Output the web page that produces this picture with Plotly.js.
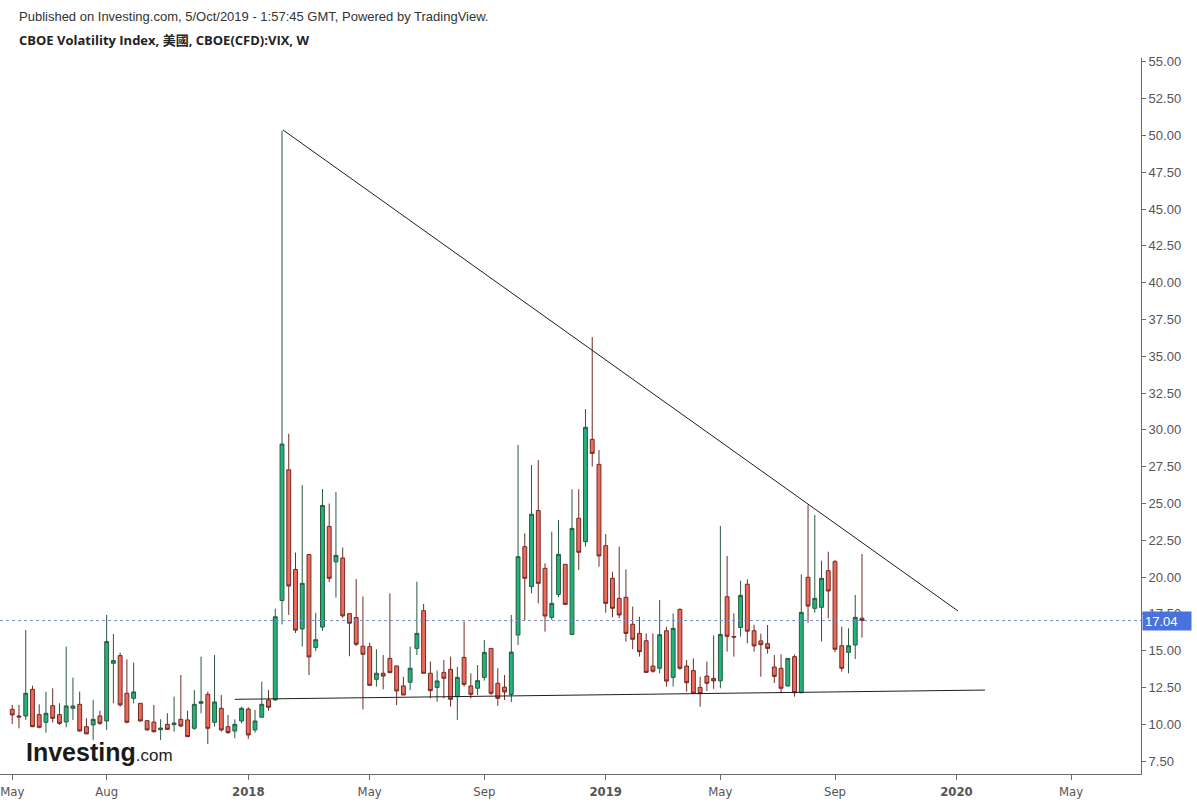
<!DOCTYPE html>
<html>
<head>
<meta charset="utf-8">
<script src="https://cdn.plot.ly/plotly-3.0.1.min.js"></script>
<style>
  html, body { margin: 0; padding: 0; background: #ffffff; }
  #chart { width: 1197px; height: 811px; }
</style>
</head>
<body>
<div id="chart"></div>
<script>
// ---- Weekly bars (Monday dates) ----
const weeks2017 = ['05-01','05-08','05-15','05-22','05-29','06-05','06-12','06-19','06-26','07-03','07-10','07-17','07-24','07-31','08-07','08-14','08-21','08-28','09-04','09-11','09-18','09-25','10-02','10-09','10-16','10-23','10-30','11-06','11-13','11-20','11-27','12-04','12-11','12-18','12-25'].map(d => '2017-' + d);
const weeks2018 = ['01-01','01-08','01-15','01-22','01-29','02-05','02-12','02-19','02-26','03-05','03-12','03-19','03-26','04-02','04-09','04-16','04-23','04-30','05-07','05-14','05-21','05-28','06-04','06-11','06-18','06-25','07-02','07-09','07-16','07-23','07-30','08-06','08-13','08-20','08-27','09-03','09-10','09-17','09-24','10-01','10-08','10-15','10-22','10-29','11-05','11-12','11-19','11-26','12-03','12-10','12-17','12-24','12-31'].map(d => '2018-' + d);
const weeks2019 = ['01-07','01-14','01-21','01-28','02-04','02-11','02-18','02-25','03-04','03-11','03-18','03-25','04-01','04-08','04-15','04-22','04-29','05-06','05-13','05-20','05-27','06-03','06-10','06-17','06-24','07-01','07-08','07-15','07-22','07-29','08-05','08-12','08-19','08-26','09-02','09-09','09-16','09-23','09-30'].map(d => '2019-' + d);
const weeks = weeks2017.concat(weeks2018, weeks2019);

const openV = [
  11.01,10.56,10.56,12.37,10.65,10.13,11.26,10.65,10.15,11.08,11.35,9.83,9.95,10.56,10.22,14.14,14.66,12.10,11.76,11.42,10.24,10.15,9.63,9.99,9.97,10.33,10.29,9.72,11.42,12.03,10.13,11.08,9.83,9.54,10.22,
  11.03,9.61,10.47,11.65,11.65,18.40,27.28,20.51,16.47,21.53,15.22,16.60,23.43,21.03,21.29,17.51,17.25,15.30,15.27,13.05,13.46,14.47,13.96,12.60,12.85,15.15,17.71,13.46,12.50,13.52,13.73,11.87,14.54,12.60,12.44,13.18,15.15,12.78,12.52,12.02,16.06,22.06,19.34,24.51,20.59,17.26,18.82,20.86,16.10,23.99,22.40,29.35,27.65,
  22.13,19.91,18.55,18.62,16.79,16.17,15.67,13.95,13.80,16.35,13.18,17.80,13.95,13.64,12.50,13.27,13.11,12.95,18.66,15.96,16.57,19.51,16.35,15.66,15.47,13.89,13.80,12.60,14.59,12.14,19.98,17.87,17.94,20.43,21.04,15.33,14.88,15.38,17.20
];
const highV = [
  11.31,11.31,16.40,12.62,11.35,12.21,12.44,11.42,15.27,13.16,12.21,10.40,11.65,10.92,17.42,16.13,14.86,14.41,14.18,11.42,10.24,11.31,10.33,10.74,11.87,13.34,10.92,12.32,14.59,12.21,14.70,11.98,10.63,10.33,11.19,
  11.15,10.97,12.89,12.32,17.85,50.32,29.73,21.66,26.24,21.53,17.56,25.98,24.99,25.77,22.00,17.51,19.86,18.68,15.53,15.09,14.70,18.89,13.96,13.23,15.27,19.68,18.17,14.25,13.64,14.36,14.59,13.90,16.97,13.46,14.02,15.72,15.15,13.80,13.34,17.42,28.97,22.97,27.61,27.95,20.93,23.08,23.87,20.86,25.96,25.96,31.41,36.30,28.63,
  22.92,20.36,22.06,20.52,17.99,17.30,16.17,16.17,18.44,16.63,17.53,17.87,14.36,14.47,13.23,14.25,16.03,23.46,21.43,17.53,19.75,19.84,16.76,16.15,16.74,14.70,14.74,14.47,14.74,20.18,24.89,24.21,21.11,21.72,21.16,16.63,16.51,18.78,21.56
];
const lowV = [
  10.02,9.72,10.29,9.80,9.72,9.43,10.11,9.95,9.79,10.29,9.49,9.34,8.93,9.95,9.61,11.42,11.19,10.06,11.42,10.17,9.56,9.43,8.92,9.61,9.49,9.79,9.11,9.61,10.74,8.65,9.83,9.49,9.34,9.04,10.06,
  9.00,9.43,10.47,10.92,11.60,16.78,17.43,16.20,15.27,13.34,14.96,16.34,19.65,18.60,17.23,14.62,15.30,11.00,12.61,12.55,12.37,13.50,11.30,11.98,12.32,14.70,13.46,11.75,11.53,11.76,11.19,10.29,12.55,11.76,11.98,12.96,11.98,11.24,11.64,11.50,15.38,17.08,18.89,18.21,16.29,17.08,18.62,18.10,16.06,20.48,22.06,27.50,20.70,
  17.58,17.26,17.20,15.61,15.09,14.59,13.50,13.50,13.46,12.55,12.55,13.70,12.21,12.05,11.19,12.25,12.40,12.44,14.93,14.59,15.95,15.49,14.93,13.23,14.80,12.80,12.10,12.55,11.87,12.10,16.90,17.58,15.61,17.19,14.90,13.57,13.46,14.43,15.88
];
const closeV = [
  10.63,10.49,12.10,9.83,9.79,10.74,10.40,10.06,11.24,11.24,9.54,9.34,10.33,10.06,15.61,14.32,11.31,10.13,12.19,10.22,9.61,9.49,9.74,9.65,10.08,9.88,9.16,11.35,11.53,9.72,11.51,9.61,9.43,9.99,11.08,
  9.27,10.22,11.35,11.15,17.30,29.03,19.39,16.39,19.57,14.57,15.74,24.86,19.91,21.47,17.36,16.86,15.43,14.75,12.64,13.46,13.27,13.50,12.26,11.98,13.80,16.17,13.46,12.28,12.94,13.12,11.69,13.18,12.71,12.03,12.96,14.88,12.10,11.76,12.19,14.90,21.38,19.91,24.26,19.57,17.35,18.21,21.54,18.14,23.30,21.68,30.17,28.40,21.43,
  18.21,17.87,17.42,16.17,15.77,14.93,13.52,13.60,16.08,12.93,16.51,13.80,12.82,12.10,12.08,12.78,12.94,16.10,15.97,15.92,18.75,16.32,15.32,15.40,15.15,13.25,12.44,14.47,12.14,17.60,18.03,18.55,19.91,19.05,15.09,13.80,15.33,17.26,17.04
];

// ---- Drawn trend lines ----
const resistanceX = ['2018-02-06', '2020-01-07 17:00'];
const resistanceY = [50.37, 17.69];
const supportX = ['2017-12-18', '2020-02-04 17:00'];
const supportY = [11.69, 12.32];

// ---- Axis ticks ----
const xTickVals = ['2017-05-01','2017-08-07','2018-01-01','2018-05-07','2018-09-03','2019-01-07','2019-05-06','2019-09-02','2020-01-06','2020-05-04'];
const xTickText = ['May','Aug','<b>2018</b>','May','Sep','<b>2019</b>','May','Sep','<b>2020</b>','May'];
const lastPrice = 17.04;

const traces = [
  {
    type: 'candlestick',
    x: weeks, open: openV, high: highV, low: lowV, close: closeV,
    increasing: { line: { color: '#2a5a42', width: 1 }, fillcolor: '#20b479' },
    decreasing: { line: { color: '#6e2c25', width: 1 }, fillcolor: '#ef6a5b' },
    whiskerwidth: 0,
    hoverinfo: 'skip'
  },
  { type: 'scatter', mode: 'lines', x: resistanceX, y: resistanceY,
    line: { color: '#1e1e1e', width: 1 }, hoverinfo: 'skip' },
  { type: 'scatter', mode: 'lines', x: supportX, y: supportY,
    line: { color: '#1e1e1e', width: 1 }, hoverinfo: 'skip' }
];

const PW = 1141, PT = 58, PB = 774, PH = PB - PT;
const px = v => v / PW;
const py = v => (PB - v) / PH;

const layout = {
  width: 1197, height: 811,
  margin: { l: 0, r: 1197 - PW, t: PT, b: 811 - PB, pad: 0 },
  paper_bgcolor: '#ffffff', plot_bgcolor: '#ffffff',
  showlegend: false, hovermode: false,
  boxgap: 0.18,
  font: { family: 'Liberation Sans, Arial, sans-serif', color: '#555555', size: 13 },
  xaxis: {
    type: 'date',
    range: ['2017-04-18 07:12', '2020-07-15 14:24'],
    tickmode: 'array', tickvals: xTickVals, ticktext: xTickText,
    showgrid: false, zeroline: false,
    showline: true, linecolor: '#6a6a6a', linewidth: 1,
    ticks: 'outside', ticklen: 5, tickcolor: '#6a6a6a',
    tickfont: { family: 'Liberation Sans Narrow, DejaVu Sans Condensed, Arial Narrow, sans-serif', size: 13, color: '#555555' },
    rangeslider: { visible: false },
    fixedrange: true
  },
  yaxis: {
    side: 'right',
    range: [6.617, 55.258],
    tick0: 7.5, dtick: 2.5, tickformat: '.2f',
    showgrid: false, zeroline: false,
    showline: true, linecolor: '#6a6a6a', linewidth: 1,
    ticks: 'outside', ticklen: 4, tickcolor: '#6a6a6a',
    tickfont: { family: 'Liberation Sans, Arial, sans-serif', size: 13, color: '#555555' },
    fixedrange: true
  },
  shapes: [
    { type: 'line', xref: 'paper', yref: 'y', x0: 0, x1: 1, y0: lastPrice, y1: lastPrice,
      line: { color: '#7b8cc4', width: 1, dash: 'dot' } }
  ],
  annotations: [
    { xref: 'paper', yref: 'paper', x: px(17), y: py(17), xanchor: 'left', yanchor: 'middle',
      showarrow: false, text: 'Published on Investing.com, 5/Oct/2019 - 1:57:45 GMT, Powered by TradingView.',
      font: { family: 'Liberation Sans, Arial, sans-serif', size: 13, color: '#333333' } },
    { xref: 'paper', yref: 'paper', x: px(17), y: py(40), xanchor: 'left', yanchor: 'middle',
      showarrow: false, text: '<b>CBOE Volatility Index, 美國, CBOE(CFD):VIX, W</b>',
      font: { family: 'Open Sans, Noto Sans CJK TC, sans-serif', size: 13, color: '#222222' } },
    { xref: 'paper', yref: 'paper', x: px(24), y: py(752), xanchor: 'left', yanchor: 'middle',
      showarrow: false, text: '<b>Investing</b><span style="font-size:17px">.com</span>',
      font: { family: 'Liberation Sans, Arial, sans-serif', size: 25, color: '#1a1a1a' } },
    { xref: 'paper', yref: 'y', x: 1, y: lastPrice, xanchor: 'left', yanchor: 'middle', xshift: 1,
      showarrow: false, text: '17.04', bgcolor: '#4a72dc', borderpad: 2, width: 44, height: 14, align: 'left',
      font: { family: 'Liberation Sans, Arial, sans-serif', size: 13, color: '#ffffff' } }
  ]
};

Plotly.newPlot('chart', traces, layout, { staticPlot: true, displayModeBar: false });
</script>
</body>
</html>
